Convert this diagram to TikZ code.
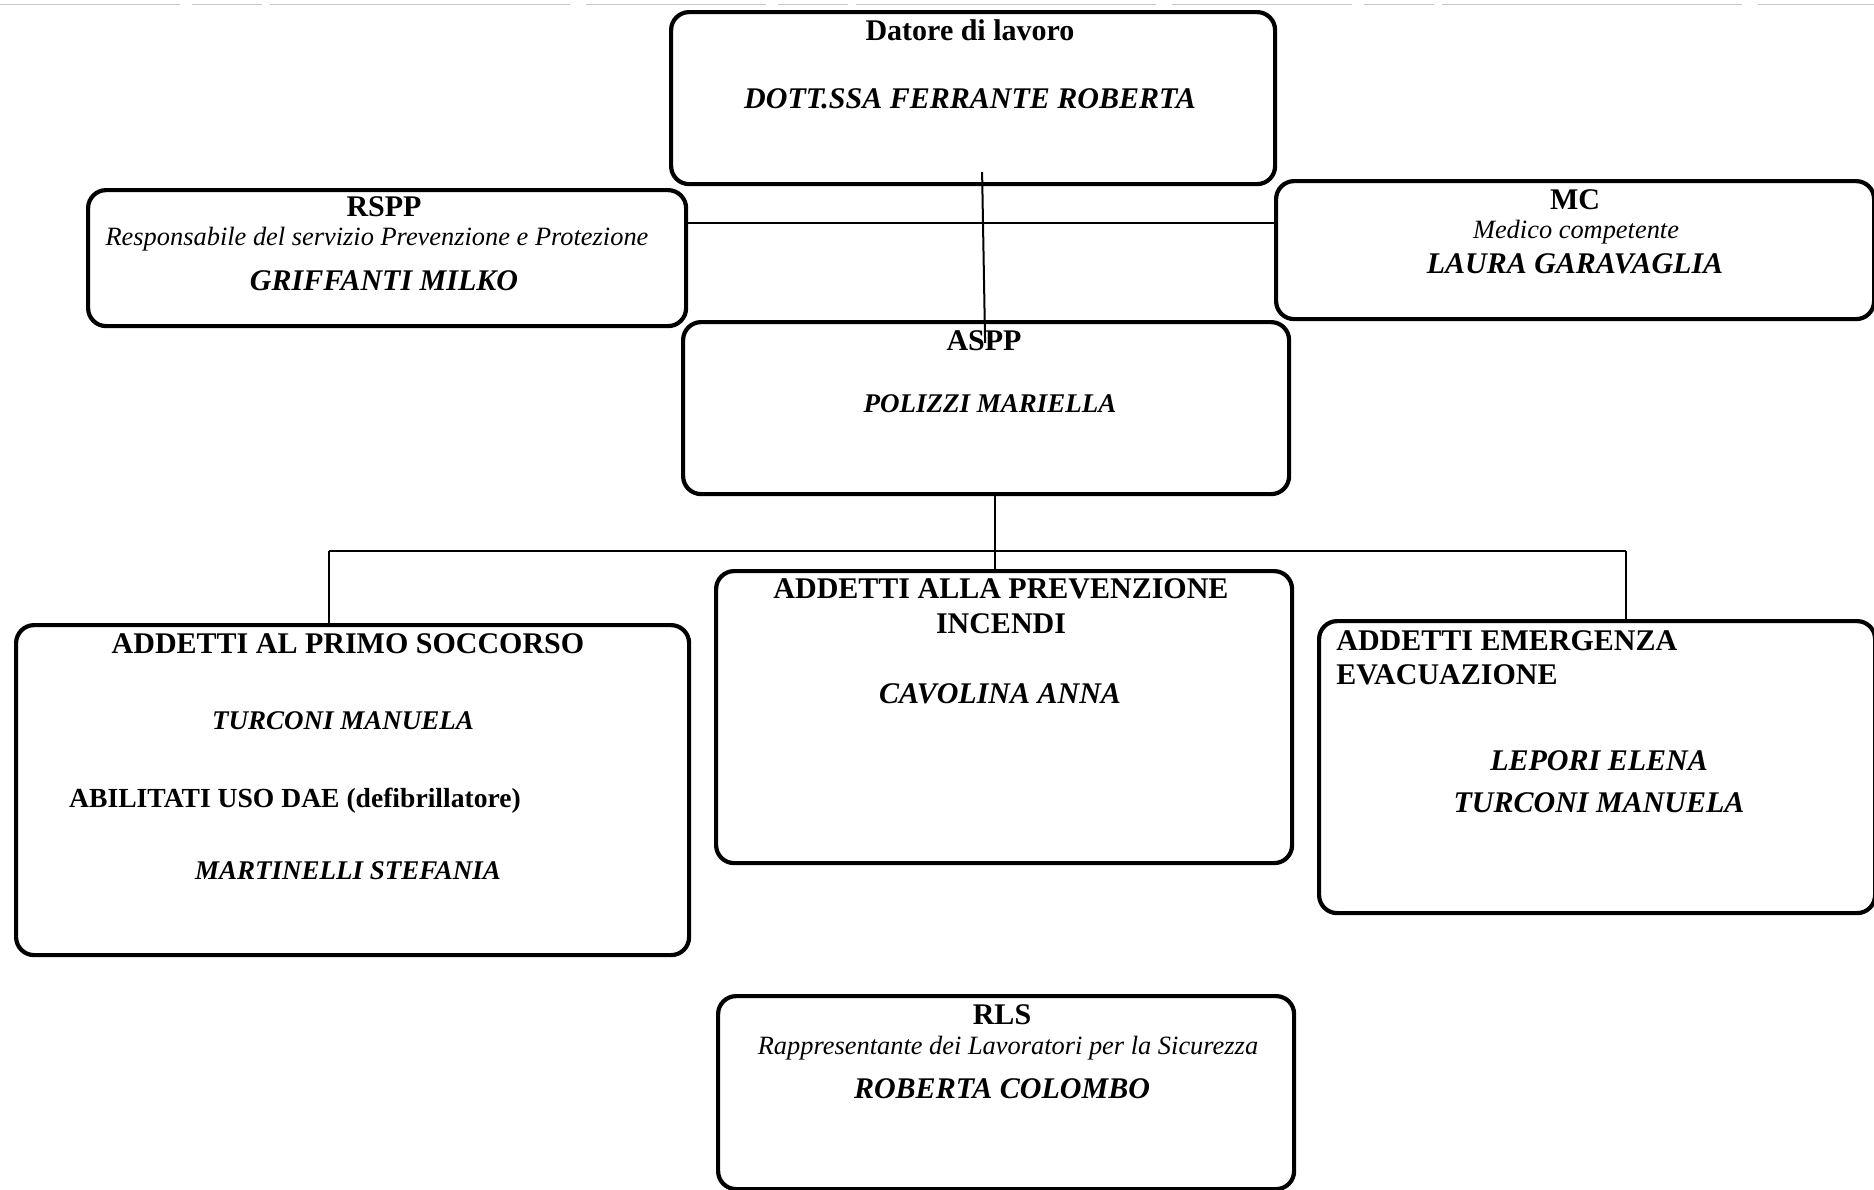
\documentclass[tikz,border=0pt]{standalone}
\usepackage{fontspec}
\setmainfont{Liberation Serif}
\begin{document}
\begin{tikzpicture}[x=0.5pt,y=-0.5pt,
  obox/.style={draw, line width=2.1pt, rounded corners=9pt, inner sep=0pt, anchor=north west},
  conn/.style={line width=1pt},
  hb/.style={inner sep=0pt, font=\fontsize{15}{18}\selectfont\bfseries},
  hbs/.style={inner sep=0pt, font=\fontsize{13.8}{16}\selectfont\bfseries},
  nm/.style={inner sep=0pt, font=\fontsize{15}{18}\selectfont\bfseries\itshape},
  nms/.style={inner sep=0pt, font=\fontsize{13.5}{16}\selectfont\bfseries\itshape},
  sub/.style={inner sep=0pt, font=\fontsize{13.2}{16}\selectfont\itshape}]
\useasboundingbox (0,0) rectangle (1874,1189);
% scan border artifact
\draw[gray!45, line width=0.5pt, dash pattern=on 90pt off 6pt on 35pt off 4pt on 150pt off 8pt] (0,4) -- (1874,4);
% boxes
\node[obox, minimum width=302pt, minimum height=86pt] (datore) at (669,10) {};
\node[obox, minimum width=299pt, minimum height=68pt] (rspp) at (86,188) {};
\node[obox, minimum width=299pt, minimum height=69pt] (mc) at (1274,179) {};
\node[obox, minimum width=303pt, minimum height=86pt] (aspp) at (681,320) {};
\node[obox, minimum width=336.5pt, minimum height=165pt] (primo) at (14,623) {};
\node[obox, minimum width=288pt, minimum height=146pt] (prev) at (714,569) {};
\node[obox, minimum width=278pt, minimum height=146pt] (emerg) at (1317,619) {};
\node[obox, minimum width=288pt, minimum height=96.5pt] (rls) at (716,994) {};
% texts
\node[hb] (t1) at (970,30) {Datore di lavoro};
\node[nm] (t2) at (970,99) {DOTT.SSA FERRANTE ROBERTA};
\node[hb] (t3) at (384,207) {RSPP};
\node[sub] (t4) at (377,239) {Responsabile del servizio Prevenzione e Protezione};
\node[nm] (t5) at (384,281) {GRIFFANTI MILKO};
\node[hb] (t6) at (1575,200) {MC};
\node[sub] (t7) at (1576,232) {Medico competente};
\node[nm] (t8) at (1575,264) {LAURA GARAVAGLIA};
\node[hb] (t9) at (984,341) {ASPP};
\node[nms] (t10) at (990,404) {POLIZZI MARIELLA};
\node[hb] (t11) at (348,644) {ADDETTI AL PRIMO SOCCORSO};
\node[nms] (t12) at (343,721) {TURCONI MANUELA};
\node[hbs] (t13) at (295,801) {ABILITATI USO DAE (defibrillatore)};
\node[nms] (t14) at (348,871) {MARTINELLI STEFANIA};
\node[hb] (t15) at (1001,589) {ADDETTI ALLA PREVENZIONE};
\node[hb] (t16) at (1001,624) {INCENDI};
\node[nm] (t17) at (1000,694) {CAVOLINA ANNA};
\node[hb, anchor=west] (t18) at (1336,641) {ADDETTI EMERGENZA};
\node[hb, anchor=west] (t19) at (1336,675) {EVACUAZIONE};
\node[nm] (t20) at (1599,761) {LEPORI ELENA};
\node[nm] (t21) at (1599,803) {TURCONI MANUELA};
\node[hb] (t22) at (1002,1015) {RLS};
\node[sub] (t23) at (1008,1048) {Rappresentante dei Lavoratori per la Sicurezza};
\node[nm] (t24) at (1002,1089) {ROBERTA COLOMBO};
% connectors
\draw[conn] ([xshift=4.5pt,yshift=7pt]datore.south) -- ([xshift=-0.5pt,yshift=-11.5pt]aspp.north);
\draw[conn] ([yshift=17.5pt]rspp.east) -- ([yshift=13.5pt]mc.west);
\draw[conn] ([xshift=4.5pt]aspp.south) -- ([xshift=-4.5pt]prev.north);
\coordinate (busL) at (329,551);
\coordinate (busR) at (1626,551);
\draw[conn] (busL) -- (busR);
\draw[conn] (busL) -- (busL |- primo.north);
\draw[conn] (busR) -- (busR |- emerg.north);
\end{tikzpicture}
\end{document}
